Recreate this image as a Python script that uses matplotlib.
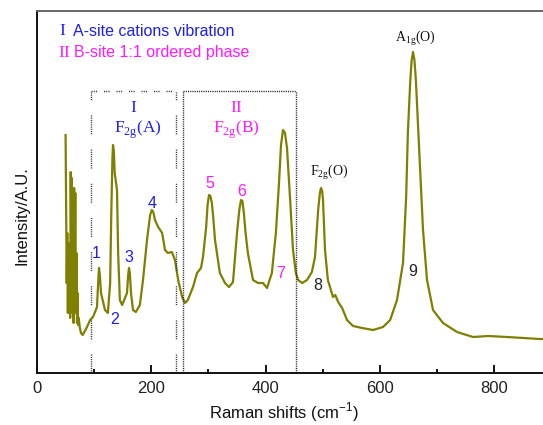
import matplotlib
matplotlib.use("Agg")
import matplotlib.pyplot as plt
import numpy as np

# ---------------- data ----------------
raman_shift = [50, 51, 52, 53, 54, 55, 56, 57, 58, 59, 60, 61, 62, 63, 64, 65, 66, 67, 68, 69, 70, 71, 72, 73, 75, 77,
               80, 87.5, 93, 98, 105, 107, 108.5, 110, 112, 119, 124, 128, 130, 132, 133, 134.5, 136, 140, 142, 145,
               149, 154, 157.5, 159.5, 161, 162.5, 164.5, 168, 173, 180, 185.5, 192.5, 198, 201, 203.5, 206.5, 212,
               219, 224, 229, 236, 241.5, 247, 254, 259, 264, 273, 280, 287, 290.5, 296, 298.5, 301, 303.5, 306,
               308.5, 311.5, 320, 329, 336, 343, 350, 354, 357, 359.5, 362, 365, 369, 378, 387, 395.5, 402.5, 411,
               418, 423.5, 427, 430.5, 434, 437.5, 443, 448, 453, 457, 464, 472.5, 481, 486.5, 492, 495, 497, 499,
               500.5, 504, 509, 518, 522, 527, 534, 542.5, 553, 569, 588, 605.5, 618, 630, 640.5, 646, 649, 653,
               655.5, 658, 660.5, 663, 670, 675.5, 682.5, 693, 710.5, 735, 763, 790, 822.5, 850, 880, 900]
intensity = [238, 170, 90, 140, 60, 130, 70, 110, 55, 201, 120, 195, 60, 130, 50, 185, 90, 180, 60, 120, 50, 80, 48, 55, 45, 40,
             38, 46, 53, 56, 66, 90, 105, 98, 80, 63, 60, 90, 160, 215, 228, 222, 200, 183, 120, 73,
             68, 75, 80, 98, 105, 100, 80, 63, 61, 68, 93, 133, 158, 163, 161, 153, 146,
             140, 123, 120, 121, 113, 93, 76, 70, 73, 86, 100, 105, 116, 146, 168, 178, 177, 170,
             155, 133, 100, 90, 86, 91, 140, 163, 173, 172, 160, 140, 120, 93, 90, 90, 85, 100,
             140, 190, 228, 243, 240, 225, 173, 123, 100, 93, 90, 93, 101, 116, 163, 180, 185, 182,
             173, 123, 93, 76, 78, 71, 65, 53, 47, 45, 43, 46, 53, 73, 110, 176, 240, 290,
             312, 321, 313, 293, 210, 143, 93, 63, 50, 41, 36, 37, 36, 35, 34, 34]

xticks_major = [0, 200, 400, 600, 800]
xticks_minor = [100, 300, 500, 700]

box1 = [94, 243]      # region I x-range
box2 = [256, 454]     # region II x-range
box_top = 282

peak_labels = ["1", "2", "3", "4", "5", "6", "7", "8", "9"]
peak_x = [103, 136.5, 161, 201, 303, 359, 427, 492, 658]
peak_y = [120, 54, 116, 170, 190, 181, 100, 87, 101]
peak_colors = ["#1f1fe6"] * 4 + ["#ff1aff"] * 3 + ["#222222"] * 2

# ---------------- figure ----------------
W, H = 543, 425
fig = plt.figure(figsize=(W / 100, H / 100), dpi=100)
ax = fig.add_axes([37 / W, (H - 373) / H, 514.3 / W, 362 / H])

sans = "Liberation Sans"
serif = "Liberation Serif"
blue = "#1f1fe6"
mag = "#ff1aff"

ax.plot(raman_shift, intensity, color="#7f7f00", lw=1.6)

ax.set_xlim(0, 900)
ax.set_ylim(0, 362)
ax.set_yticks([])
ax.set_xticks(xticks_major)
ax.set_xticks(xticks_minor, minor=True)
ax.tick_params(axis="x", which="major", direction="in", length=5.5, width=1.3, pad=6,
               labelsize=12)
ax.tick_params(axis="x", which="minor", direction="in", length=2.8, width=1.3)
for lab in ax.get_xticklabels():
    lab.set_fontfamily(sans)
    lab.set_color("#222222")

for s in ["left", "bottom"]:
    ax.spines[s].set_linewidth(1.4)
    ax.spines[s].set_color("#111111")
ax.spines["top"].set_linewidth(1.4)
ax.spines["top"].set_color("#666666")
ax.spines["right"].set_visible(False)

# dotted boxes
sparse = (0, (0.8, 0.8) * 8 + (0.8, 11))
for xv in box1:
    ax.plot([xv, xv], [0, box_top], color="#333333", lw=1.0, ls=sparse)
ax.plot(box1, [box_top, box_top], color="#333333", lw=1.0, ls=(0, (0.8, 0.8, 0.8, 0.8, 0.8, 5)))
dense = (0, (0.8, 0.8))
for xv in box2:
    ax.plot([xv, xv], [0, box_top], color="#222222", lw=1.0, ls=dense)
ax.plot(box2, [box_top, box_top], color="#222222", lw=1.0, ls=dense)

# legend-like header text
ax.text(44.6, 342, "I", color=blue, family=serif, fontsize=12.5, ha="center", va="center")
ax.text(63, 342, "A-site cations vibration", color=blue, family=sans, fontsize=11.5,
        ha="left", va="center")
ax.text(47, 320, "II", color=mag, family=serif, fontsize=12.5, ha="center", va="center")
ax.text(64.8, 320, "B-site 1:1 ordered phase", color=mag, family=sans, fontsize=11.5,
        ha="left", va="center")

# region labels
ax.text(168, 265, "I", color=blue, family=serif, fontsize=12.5, ha="center", va="center")
ax.text(177, 243, r"F$_\mathregular{2g}$(A)", color=blue, family=serif, fontsize=12.5,
        ha="center", va="center")
ax.text(348, 265, "II", color=mag, family=serif, fontsize=12.5, ha="center", va="center")
ax.text(349, 243, r"F$_\mathregular{2g}$(B)", color=mag, family=serif, fontsize=12.5,
        ha="center", va="center")
ax.text(511, 201, r"F$_\mathregular{2g}$(O)", color="#111111", family=serif, fontsize=10,
        ha="center", va="center")
ax.text(661.5, 335, r"A$_\mathregular{1g}$(O)", color="#111111", family=serif, fontsize=10,
        ha="center", va="center")

for lab, px, py, c in zip(peak_labels, peak_x, peak_y, peak_colors):
    ax.text(px, py, lab, color=c, family=sans, fontsize=11.5, ha="center", va="center")

fig.text(22 / W, 1 - 216 / H, "Intensity/A.U.", rotation=90, family=sans, fontsize=12,
         ha="center", va="center", color="#111111")
fig.text(283.5 / W, 1 - 412 / H, r"Raman shifts (cm$^\mathregular{-1}$)", family=sans,
         fontsize=12, ha="center", va="center", color="#111111")

fig.savefig("out.png", dpi=100)
